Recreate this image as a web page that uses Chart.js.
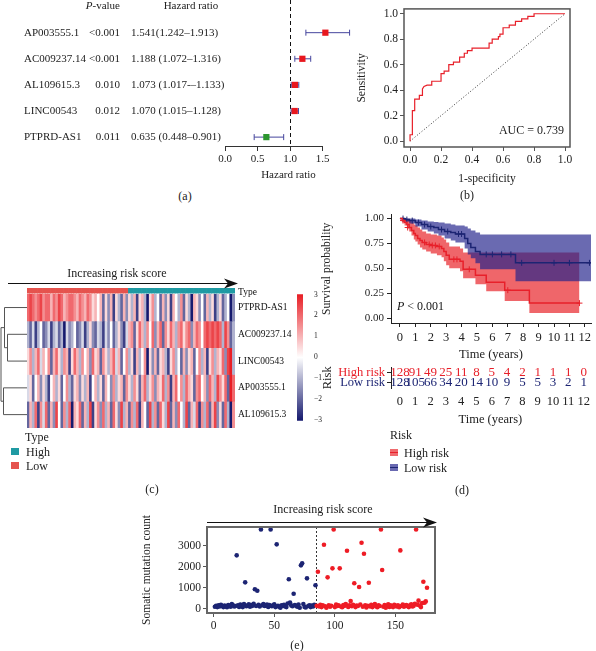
<!DOCTYPE html>
<html>
<head>
<meta charset="utf-8">
<title>Risk signature figure</title>
<script src="https://cdn.jsdelivr.net/npm/chart.js@4.4.1/dist/chart.umd.min.js"></script>
<style>
  body { margin: 0; background: #fff; }
  #page { position: relative; width: 596px; height: 651px; overflow: hidden; font-family: 'Liberation Serif', 'DejaVu Serif', serif; color: #222; }
  #page canvas { position: absolute; }
  .txt { position: absolute; white-space: nowrap; font-size: 12px; line-height: 1; }
  .panel { transform: translate(-50%, -50%); }
  .sw { position: absolute; width: 8px; height: 7px; }
</style>
</head>
<body>
<div id="page">
  <canvas id="forestChart" width="360" height="185" style="left:0;top:0"></canvas>
  <canvas id="rocChart" width="241" height="190" style="left:355px;top:0"></canvas>
  <canvas id="heatChart" width="300" height="170" style="left:0;top:262px"></canvas>
  <canvas id="scaleChart" width="40" height="146" style="left:290px;top:286px"></canvas>
  <canvas id="kmChart" width="276" height="160" style="left:320px;top:205px"></canvas>
  <canvas id="riskChart" width="276" height="72" style="left:320px;top:358px"></canvas>
  <canvas id="mutChart" width="305" height="145" style="left:140px;top:495px"></canvas>

  <div class="txt panel" style="left:185px;top:196px">(a)</div>
  <div class="txt panel" style="left:467px;top:195px">(b)</div>
  <div class="txt panel" style="left:152px;top:489px">(c)</div>
  <div class="txt panel" style="left:462px;top:490px">(d)</div>
  <div class="txt panel" style="left:297px;top:645px">(e)</div>

  <!-- heatmap legend -->
  <div class="txt" style="left:25px;top:431px">Type</div>
  <div class="sw" style="left:11px;top:448px;background:#1f9aa3"></div>
  <div class="txt" style="left:26px;top:446px">High</div>
  <div class="sw" style="left:11px;top:462px;background:#e5534e"></div>
  <div class="txt" style="left:26px;top:460px">Low</div>

  <!-- survival legend -->
  <div class="txt" style="left:390px;top:429px">Risk</div>
  <div class="sw" style="left:390px;top:449px;background:linear-gradient(#ef6a6d 0 3px,#e8202a 3px 4px,#ef6a6d 4px)"></div>
  <div class="txt" style="left:404px;top:447px">High risk</div>
  <div class="sw" style="left:390px;top:464px;background:linear-gradient(#6969b1 0 3px,#1c2473 3px 4px,#6969b1 4px)"></div>
  <div class="txt" style="left:404px;top:462px">Low risk</div>
</div>

<script>
// ---- (a) univariate Cox forest plot
const forestGenes = ['AP003555.1', 'AC009237.14', 'AL109615.3', 'LINC00543', 'PTPRD-AS1'];
const forestP = ['<0.001', '<0.001', '0.010', '0.012', '0.011'];
const forestHR = [1.541, 1.188, 1.073, 1.070, 0.635];
const forestLow = [1.242, 1.072, 1.017, 1.015, 0.448];
const forestHigh = [1.913, 1.316, 1.133, 1.128, 0.901];
const forestText = ['1.541(1.242\u20131.913)', '1.188 (1.072\u20131.316)', '1.073 (1.017-\u20131.133)', '1.070 (1.015\u20131.128)', '0.635 (0.448\u20130.901)'];
const forestTicks = [0, 0.5, 1.0, 1.5];

// ---- (b) ROC curve
const rocFpr = [0, 0, 0.015, 0.015, 0.03, 0.03, 0.06, 0.06, 0.08, 0.08, 0.09, 0.11, 0.14, 0.14, 0.2, 0.2, 0.22, 0.22, 0.25, 0.25, 0.28, 0.28, 0.32, 0.32, 0.35, 0.35, 0.37, 0.37, 0.4, 0.4, 0.51, 0.51, 0.53, 0.53, 0.57, 0.57, 0.58, 0.58, 0.6, 0.6, 0.64, 0.64, 0.68, 0.68, 0.72, 0.72, 0.76, 0.76, 0.8, 0.8, 1];
const rocTpr = [0, 0.05, 0.05, 0.24, 0.24, 0.33, 0.33, 0.36, 0.36, 0.41, 0.43, 0.44, 0.44, 0.47, 0.47, 0.53, 0.53, 0.55, 0.55, 0.6, 0.6, 0.62, 0.62, 0.66, 0.66, 0.69, 0.69, 0.71, 0.71, 0.73, 0.73, 0.77, 0.77, 0.8, 0.8, 0.82, 0.82, 0.84, 0.84, 0.89, 0.89, 0.91, 0.91, 0.94, 0.94, 0.96, 0.96, 0.98, 0.98, 1, 1];
const rocTicks = [0, 0.2, 0.4, 0.6, 0.8, 1.0];
const rocAuc = 0.739;

// ---- (c) heatmap, columns ordered by risk score
const typeGroups = ['Low', 'High'];
const typeCounts = [39, 41];
const heatGenes = ['PTPRD-AS1', 'AC009237.14', 'LINC00543', 'AP003555.1', 'AL109615.3'];
const heatPTPRD = [
  2, 2.5, 2, 1.5, 2, 2.5, 1.5, 2, 2, 1,
  2, 1.5, 2.5, 2, 1, 1.5, 2, 2, 1.5, 1,
  2, 1.5, 1, 2, 1.5, 0.5, 1, 0, 1, -2,
  0.5, -1.5, 1, -2.5, 0.5, -1, -2, 1, -1.5, 0.5,
  -1, 1, -2.5, 0.5, 1, -1, -3, 0.5, 1.5, -1,
  0, -2, 1, -1.5, 0.5, -2.5, 1, 0, -1, 1.5,
  -2, 0.5, -1, -3, 1, 0.5, -1.5, 0, -2, 1,
  -1, 0.5, -2.5, -1, 0.5, -2, -1, 0, -3, -1.5];
const heatAC = [
  -1, -2, -0.5, -2.5, -1, 0, -2, -1.5, -0.5, -2.5,
  -1, -0.5, -2, -1, -3, -0.5, -1.5, -1, 0, -2,
  -1.5, -0.5, -2.5, -1, 0.5, -1.5, -2, -0.5, -1, -2.5,
  -0.5, -1.5, 0, -2, -1, 0.5, -1.5, -2.5, -0.5, 1,
  1.5, -2, 0.5, 2, 1, -1, 1.5, 0, 2, -1.5,
  1, 2, -2, 1.5, 0.5, 2, 1, -1, 1.5, 2,
  0.5, 1.5, 2, -1.5, 1, 2, 1.5, 0, 2, 2.5,
  2, 2.5, 2, 2.5, 2, -1, 2.5, 1.5, -2, -1];
const heatLINC = [
  0.5, 1.5, -1, 1, 2, -0.5, 1, 0, 1.5, -2,
  1, 2, 0.5, -1, 1.5, 1, -2.5, 0.5, 2, 1,
  -1, 1.5, 0, 1, -1.5, 2, 0.5, 1, -2, 1.5,
  0.5, -1, 1, 2, -0.5, 1, -2, 0, 1.5, -1,
  0.5, -2.5, 1, -1, 0, 1.5, -3, 0.5, -1.5, 1,
  -2, 0.5, 1, -1, -2.5, 0.5, 1.5, -1, 0, -2,
  1, -1.5, 0.5, 1, -2, 0, 1.5, -1, 1, -2.5,
  0.5, 1.5, -1, 1, 0.5, 2, -1.5, 2.5, 3, -1];
const heatAP = [
  -0.5, 0.5, -2, 0, 1, -1.5, 0.5, -1, -2.5, 0,
  1, -1, 0.5, -2, 0, 1.5, -1, -2, 0.5, 1,
  -1.5, 0.5, -1, 1, -2.5, 0, 1, -1, 0.5, -2,
  1, 0, -1.5, 1.5, -1, 0.5, 1, -2, 1.5, 0.5,
  -1, 1.5, 0.5, -2, 1, 2, -1, 0.5, 1.5, -1.5,
  1, 0.5, 2, -1, 1.5, -2.5, 1, 2, 0, 1.5,
  -1, 2, 1, 0.5, -2, 1.5, 2, 0, 1, -1.5,
  2, 1, -1, 2.5, 1.5, 0.5, 2, -2, 3, 2];
const heatAL = [
  -2, 1, -1, 2, -2.5, 1.5, -0.5, 2, -2, 1,
  -1.5, 2.5, 0, -2, 1.5, -1, 2, -3, 1, 0.5,
  2, -2, 1, -1, 2.5, -2.5, 0.5, 1.5, -1.5, 2,
  -1, 1, -2, 2, 0.5, -1.5, 2.5, -1, 1, -2,
  1.5, -1, 2, -2.5, 1, 0, -2, 2.5, -1, 1.5,
  -2, 2, 0.5, -1, 2.5, -2, 1, -1.5, 2, 0,
  -1, 2.5, -2, 1, -0.5, 2, -2.5, 1.5, -1, 2,
  -2, 1, 2.5, -1.5, 0.5, -2, 2, -1, -3, 1.5];
const heatScaleTicks = [-3, -2, -1, 0, 1, 2, 3];

// ---- (d) Kaplan-Meier by risk group
const highTime = [0, 0.15, 0.3, 0.45, 0.6, 0.75, 0.9, 1.0, 1.15, 1.3, 1.45, 1.7, 2.0, 2.4, 2.7, 2.85, 3.0, 3.2, 3.9, 4.1, 4.9, 5.6, 6.8, 8.4, 11.65];
const highSurv = [1, 0.98, 0.96, 0.94, 0.91, 0.88, 0.85, 0.83, 0.80, 0.78, 0.76, 0.74, 0.73, 0.72, 0.70, 0.67, 0.63, 0.59, 0.57, 0.49, 0.43, 0.36, 0.28, 0.15, 0.15];
const highUpper = [1, 1, 1, 0.99, 0.98, 0.96, 0.94, 0.93, 0.91, 0.89, 0.87, 0.85, 0.84, 0.83, 0.81, 0.79, 0.76, 0.72, 0.70, 0.66, 0.66, 0.66, 0.66, 0.66, 0.66];
const highLower = [1, 0.96, 0.93, 0.90, 0.87, 0.83, 0.79, 0.77, 0.74, 0.71, 0.69, 0.67, 0.65, 0.63, 0.61, 0.57, 0.53, 0.50, 0.47, 0.40, 0.34, 0.27, 0.17, 0.05, 0.05];
const lowTime = [0, 0.3, 0.6, 1.0, 1.4, 1.8, 2.2, 2.5, 2.9, 3.3, 3.6, 4.2, 4.4, 4.6, 4.9, 5.2, 7.5, 12.4];
const lowSurv = [1, 0.99, 0.98, 0.96, 0.94, 0.92, 0.91, 0.89, 0.87, 0.86, 0.845, 0.80, 0.75, 0.71, 0.67, 0.64, 0.555, 0.555];
const lowUpper = [1, 1, 1, 0.99, 0.98, 0.97, 0.965, 0.96, 0.95, 0.94, 0.93, 0.92, 0.90, 0.88, 0.86, 0.84, 0.84, 0.84];
const lowLower = [1, 0.97, 0.95, 0.92, 0.89, 0.87, 0.85, 0.83, 0.80, 0.78, 0.76, 0.70, 0.64, 0.60, 0.55, 0.49, 0.37, 0.37];
const highCensorT = [0.2, 0.5, 1.6, 1.9, 2.1, 2.3, 2.55, 3.5, 3.7, 4.5, 7.0, 11.65];
const highCensorS = [0.98, 0.91, 0.76, 0.74, 0.73, 0.73, 0.72, 0.59, 0.59, 0.49, 0.28, 0.15];
const lowCensorT = [0.2, 0.45, 0.8, 1.2, 1.6, 2.0, 2.7, 3.1, 3.8, 4.0, 5.6, 6.0, 6.6, 7.2, 7.9, 10.0, 11.0, 12.3];
const lowCensorS = [1, 0.99, 0.98, 0.96, 0.94, 0.92, 0.89, 0.87, 0.845, 0.845, 0.64, 0.64, 0.64, 0.64, 0.555, 0.555, 0.555, 0.555];
const kmYears = [0, 1, 2, 3, 4, 5, 6, 7, 8, 9, 10, 11, 12];
const kmSurvTicks = [0, 0.25, 0.5, 0.75, 1];
const riskGroups = ['High risk', 'Low risk'];
const riskHigh = [128, 91, 49, 25, 11, 8, 5, 4, 2, 1, 1, 1, 0];
const riskLow = [128, 105, 66, 34, 20, 14, 10, 9, 5, 5, 3, 2, 1];

// ---- (e) somatic mutation count per sample, ordered by risk score
const lowRiskN = 84;
const mutationCount = [
  110, 150, 90, 180, 120, 200, 140, 90, 160, 130,
  80, 190, 150, 110, 230, 170, 120, 140, 2545, 180,
  100, 210, 150, 90, 240, 1265, 130, 170, 220, 110,
  190, 150, 250, 934, 140, 867, 200, 120, 3777, 180,
  230, 140, 160, 210, 100, 190, 3777, 130, 170, 220,
  90, 3066, 150, 110, 60, 180, 140, 200, 120, 90,
  260, 1408, 310, 170, 130, 725, 190, 150, 110, 210,
  60, 2071, 2166, 240, 100, 70, 1455, 140, 180, 90,
  160, 120, 200, 1123, 150, 1768, 120, 200, 90, 170,
  3047, 130, 60, 1502, 180, 110, 150, 1929, 3777, 90,
  210, 140, 170, 1929, 120, 80, 190, 150, 230, 2763,
  100, 170, 379, 130, 200, 1218, 90, 160, 140, 1043,
  210, 3142, 110, 2621, 180, 70, 150, 1246, 120, 200,
  90, 160, 230, 130, 80, 170, 140, 3777, 1848, 110,
  190, 60, 150, 220, 100, 170, 130, 90, 200, 150,
  120, 180, 80, 2780, 140, 210, 110, 160, 190, 130,
  90, 170, 220, 120, 150, 250, 3777, 200, 395, 160,
  90, 280, 1295, 300, 360, 1010];
const mutXTicks = [0, 50, 100, 150];
const mutYTicks = [0, 1000, 2000, 3000];

// ---------------------------------------------------------------
const SERIF = "'Liberation Serif', 'DejaVu Serif', serif";
const RED = '#e8202a';
const NAVY = '#1c2473';
const TYPE_COLORS = { Low: '#e5534e', High: '#1f9aa3' };
const HEAT_RED = [232, 30, 37];
const HEAT_NAVY = [22, 26, 110];

Chart.defaults.font.family = SERIF;
Chart.defaults.color = '#222';
Chart.defaults.animation = false;
Chart.defaults.responsive = false;
Chart.defaults.plugins.legend.display = false;
Chart.defaults.plugins.tooltip.enabled = false;

const pts = (xs, ys) => xs.map((x, i) => ({ x: x, y: ys[i] }));
const fixTicks = vals => scale => { scale.ticks = vals.map(v => ({ value: v })); };

function drawArrow(ctx, x0, x1, y) {
  ctx.save();
  ctx.strokeStyle = '#111';
  ctx.fillStyle = '#111';
  ctx.lineWidth = 1.2;
  ctx.beginPath();
  ctx.moveTo(x0, y);
  ctx.lineTo(x1 - 6, y);
  ctx.stroke();
  ctx.beginPath();
  ctx.moveTo(x1, y);
  ctx.lineTo(x1 - 14, y - 5);
  ctx.lineTo(x1 - 10, y);
  ctx.lineTo(x1 - 14, y + 5);
  ctx.closePath();
  ctx.fill();
  ctx.restore();
}

// (a) forest plot
const forestPlugin = {
  id: 'forestText',
  beforeDatasetsDraw(chart) {
    const { ctx, chartArea, scales: { x } } = chart;
    const px = Math.round(x.getPixelForValue(1)) + 0.5;
    ctx.save();
    ctx.strokeStyle = '#111';
    ctx.lineWidth = 1;
    ctx.setLineDash([4, 3]);
    ctx.beginPath();
    ctx.moveTo(px, 0);
    ctx.lineTo(px, chartArea.bottom);
    ctx.stroke();
    ctx.restore();
  },
  afterDraw(chart) {
    const { ctx, chartArea, scales: { x, y } } = chart;
    ctx.save();
    ctx.strokeStyle = '#333';
    ctx.lineWidth = 1;
    ctx.beginPath();
    ctx.moveTo(x.getPixelForValue(0), chartArea.bottom + 0.5);
    ctx.lineTo(x.getPixelForValue(1.5), chartArea.bottom + 0.5);
    ctx.stroke();

    ctx.fillStyle = '#222';
    ctx.textBaseline = 'middle';
    ctx.font = '11px ' + SERIF;
    forestGenes.forEach((g, i) => {
      const py = y.getPixelForValue(i);
      ctx.textAlign = 'left';
      ctx.fillText(g, 24, py);
      ctx.textAlign = 'right';
      ctx.fillText(forestP[i], 120, py);
      ctx.textAlign = 'left';
      ctx.fillText(forestText[i], 131, py);
    });
    // headers
    ctx.textAlign = 'right';
    const rest = '-value';
    ctx.fillText(rest, 120, 6);
    const w = ctx.measureText(rest).width;
    ctx.font = 'italic 11px ' + SERIF;
    ctx.fillText('P', 120 - w, 6);
    ctx.font = '11px ' + SERIF;
    ctx.textAlign = 'center';
    ctx.fillText('Hazard ratio', 191, 6);
    ctx.restore();
  }
};

new Chart(document.getElementById('forestChart'), {
  type: 'scatter',
  data: {
    datasets: [
      ...forestGenes.map((g, i) => ({
        type: 'line',
        data: [{ x: forestLow[i], y: i }, { x: forestHigh[i], y: i }],
        borderColor: '#46469e',
        borderWidth: 1,
        pointStyle: 'line',
        pointRotation: 90,
        pointRadius: 3,
        pointBorderColor: '#46469e',
        pointBorderWidth: 1,
        order: 1
      })),
      {
        type: 'scatter',
        data: forestHR.map((v, i) => ({ x: v, y: i })),
        pointStyle: 'rect',
        pointRadius: 4.4,
        pointBackgroundColor: forestHR.map(v => v > 1 ? '#e8171e' : '#2c962f'),
        pointBorderWidth: 0,
        order: 0
      }
    ]
  },
  options: {
    layout: { padding: { left: 225, right: 8, top: 3, bottom: 0 } },
    scales: {
      x: {
        type: 'linear', min: 0, max: 1.95,
        afterBuildTicks: fixTicks(forestTicks),
        afterFit: s => { s.height = 39; },
        ticks: { callback: v => v.toFixed(1), font: { size: 11 }, padding: 2, maxRotation: 0 },
        grid: { drawOnChartArea: false, tickLength: 5, color: '#333' },
        border: { display: false },
        title: { display: true, text: 'Hazard ratio', font: { size: 11 }, padding: { top: 2, bottom: 3 } }
      },
      y: { type: 'linear', display: false, reverse: true, min: -1.06, max: 4.34 }
    }
  },
  plugins: [forestPlugin]
});

// (b) ROC
const boxPlugin = {
  id: 'box',
  afterDraw(chart, args, opts) {
    const { ctx, chartArea } = chart;
    ctx.save();
    ctx.strokeStyle = opts.color || '#555';
    ctx.lineWidth = opts.width || 1.5;
    ctx.strokeRect(chartArea.left, chartArea.top, chartArea.right - chartArea.left, chartArea.bottom - chartArea.top);
    if (opts.text) {
      ctx.fillStyle = '#222';
      ctx.font = '12px ' + SERIF;
      ctx.textAlign = 'right';
      ctx.textBaseline = 'middle';
      ctx.fillText(opts.text, chartArea.right - 6, chartArea.bottom - 16);
    }
    ctx.restore();
  }
};

new Chart(document.getElementById('rocChart'), {
  type: 'scatter',
  data: {
    datasets: [
      { type: 'line', data: pts(rocFpr, rocTpr), borderColor: RED, borderWidth: 1.2, pointRadius: 0, tension: 0 },
      { type: 'line', data: [{ x: 0, y: 0 }, { x: 1, y: 1 }], borderColor: '#333', borderWidth: 1, borderDash: [1, 2], pointRadius: 0 }
    ]
  },
  options: {
    layout: { padding: { top: 6, right: 26, left: 0, bottom: 0 } },
    scales: {
      x: {
        type: 'linear', min: -0.039, max: 1.032,
        afterBuildTicks: fixTicks(rocTicks),
        afterFit: s => { s.height = 43; },
        ticks: { callback: v => v.toFixed(1), font: { size: 11.5 }, padding: 2, maxRotation: 0 },
        grid: { drawOnChartArea: false, tickLength: 4, color: '#555' },
        border: { display: false },
        title: { display: true, text: '1-specificity', font: { size: 11.5 }, padding: { top: 0, bottom: 4 } }
      },
      y: {
        type: 'linear', min: -0.046, max: 1.038,
        afterBuildTicks: fixTicks(rocTicks),
        afterFit: s => { s.width = 49; },
        ticks: { callback: v => v.toFixed(1), font: { size: 11.5 }, padding: 2 },
        grid: { drawOnChartArea: false, tickLength: 4, color: '#555' },
        border: { display: false },
        title: { display: true, text: 'Sensitivity', font: { size: 11.5 }, padding: { top: 0, bottom: 2 } }
      }
    },
    plugins: { box: { text: 'AUC = ' + rocAuc } }
  },
  plugins: [boxPlugin]
});

// (c) heatmap as stacked full-width bars
const TYPE_H = 0.19;
const GAP_H = 0.04;
const heatRows = [heatPTPRD, heatAC, heatLINC, heatAP, heatAL];
const heatCols = heatPTPRD.map((_, i) => i + 1);
const typeOfCol = heatCols.map((c, i) => i < typeCounts[0] ? typeGroups[0] : typeGroups[1]);

function mixColor(c, a) {
  const r = Math.round(255 + (c[0] - 255) * a);
  const g = Math.round(255 + (c[1] - 255) * a);
  const b = Math.round(255 + (c[2] - 255) * a);
  return 'rgb(' + r + ',' + g + ',' + b + ')';
}
function heatColor(v) {
  const t = Math.max(-1, Math.min(1, v / 3));
  return t >= 0 ? mixColor(HEAT_RED, t) : mixColor(HEAT_NAVY, -t);
}

const heatPlugin = {
  id: 'heatDecor',
  afterDraw(chart) {
    const { ctx, chartArea, scales: { y } } = chart;
    const rowMid = i => y.getPixelForValue(TYPE_H + GAP_H + i + 0.5);
    ctx.save();
    ctx.fillStyle = '#111';
    ctx.font = '9.5px ' + SERIF;
    ctx.textAlign = 'left';
    ctx.textBaseline = 'middle';
    ctx.fillText('Type', chartArea.right + 3, y.getPixelForValue(TYPE_H / 2) + 2);
    heatGenes.forEach((g, i) => ctx.fillText(g, chartArea.right + 3, rowMid(i)));

    // dendrogram on the left
    const L = chartArea.left;
    const yc = heatGenes.map((g, i) => rowMid(i));
    const m12 = (yc[1] + yc[2]) / 2;
    const mA = (yc[0] + m12) / 2;
    const mB = (yc[3] + yc[4]) / 2;
    ctx.strokeStyle = '#555';
    ctx.lineWidth = 1;
    ctx.beginPath();
    ctx.moveTo(L, yc[0]); ctx.lineTo(4.5, yc[0]); ctx.lineTo(4.5, m12); ctx.lineTo(7.5, m12);
    ctx.moveTo(L, yc[1]); ctx.lineTo(7.5, yc[1]); ctx.lineTo(7.5, yc[2]); ctx.lineTo(L, yc[2]);
    ctx.moveTo(L, yc[3]); ctx.lineTo(3.5, yc[3]); ctx.lineTo(3.5, yc[4]); ctx.lineTo(L, yc[4]);
    ctx.moveTo(4.5, mA); ctx.lineTo(1, mA); ctx.lineTo(1, mB); ctx.lineTo(3.5, mB);
    ctx.stroke();

    // header
    ctx.font = '12px ' + SERIF;
    ctx.fillStyle = '#222';
    ctx.textAlign = 'center';
    ctx.fillText('Increasing risk score', 117, 12);
    ctx.restore();
    drawArrow(ctx, 8, 238, 21.5);
  }
};

new Chart(document.getElementById('heatChart'), {
  type: 'bar',
  data: {
    labels: heatCols,
    datasets: [
      { data: heatCols.map(() => TYPE_H), backgroundColor: typeOfCol.map(t => TYPE_COLORS[t]) },
      { data: heatCols.map(() => GAP_H), backgroundColor: 'rgba(0,0,0,0)' },
      ...heatRows.map(row => ({ data: row.map(() => 1), backgroundColor: row.map(heatColor) }))
    ]
  },
  options: {
    layout: { padding: { left: 27, right: 65, top: 26, bottom: 4 } },
    datasets: { bar: { barPercentage: 1, categoryPercentage: 1, borderWidth: 0 } },
    scales: {
      x: { stacked: true, display: false },
      y: { stacked: true, display: false, reverse: true, min: 0, max: TYPE_H + GAP_H + heatRows.length }
    }
  },
  plugins: [heatPlugin]
});

// colour key of the heatmap
new Chart(document.getElementById('scaleChart'), {
  type: 'bar',
  data: {
    labels: [''],
    datasets: [{
      data: [[heatScaleTicks[0], heatScaleTicks[heatScaleTicks.length - 1]]],
      barPercentage: 1, categoryPercentage: 1, borderWidth: 0,
      backgroundColor: c => {
        const ch = c.chart;
        if (!ch.chartArea) return '#fff';
        const ys = ch.scales.y;
        const g = ch.ctx.createLinearGradient(0, ys.getPixelForValue(3), 0, ys.getPixelForValue(-3));
        g.addColorStop(0, mixColor(HEAT_RED, 1));
        g.addColorStop(0.5, '#ffffff');
        g.addColorStop(1, mixColor(HEAT_NAVY, 1));
        return g;
      }
    }]
  },
  options: {
    layout: { padding: { left: 7, top: 6, bottom: 6, right: 0 } },
    scales: {
      x: { display: false },
      y: {
        position: 'right', min: -3.2, max: 3.05,
        afterBuildTicks: fixTicks(heatScaleTicks),
        afterFit: s => { s.width = 27; },
        ticks: { font: { size: 7.5 }, padding: 3, callback: v => v < 0 ? '\u2212' + Math.abs(v) : String(v) },
        grid: { display: false },
        border: { display: false }
      }
    }
  }
});

// (d) Kaplan-Meier
const kmPlugin = {
  id: 'kmText',
  afterDraw(chart) {
    const { ctx, chartArea } = chart;
    ctx.save();
    ctx.fillStyle = '#111';
    ctx.textBaseline = 'middle';
    ctx.textAlign = 'left';
    ctx.font = 'italic 12px ' + SERIF;
    const x0 = chartArea.left + 6;
    const y0 = chartArea.bottom - 16;
    ctx.fillText('P', x0, y0);
    const w = ctx.measureText('P ').width;
    ctx.font = '12px ' + SERIF;
    ctx.fillText('< 0.001', x0 + w, y0);
    ctx.restore();
  }
};

new Chart(document.getElementById('kmChart'), {
  type: 'scatter',
  data: {
    datasets: [
      { type: 'line', data: pts(highTime, highSurv), stepped: true, borderColor: RED, borderWidth: 1.5, pointRadius: 0, order: 0 },
      { type: 'line', data: pts(lowTime, lowSurv), stepped: true, borderColor: NAVY, borderWidth: 1.5, pointRadius: 0, order: 0 },
      { type: 'scatter', data: pts(highCensorT, highCensorS), pointStyle: 'cross', pointRadius: 3, pointBorderColor: RED, pointBorderWidth: 1, order: 0 },
      { type: 'scatter', data: pts(lowCensorT, lowCensorS), pointStyle: 'cross', pointRadius: 3, pointBorderColor: NAVY, pointBorderWidth: 1, order: 0 },
      { type: 'line', data: pts(lowTime, lowUpper), stepped: true, borderColor: 'rgba(0,0,0,0)', borderWidth: 0, pointRadius: 0, fill: '+1', backgroundColor: 'rgba(35,35,140,0.68)', order: 1 },
      { type: 'line', data: pts(lowTime, lowLower), stepped: true, borderColor: 'rgba(0,0,0,0)', borderWidth: 0, pointRadius: 0, fill: false, order: 1 },
      { type: 'line', data: pts(highTime, highUpper), stepped: true, borderColor: 'rgba(0,0,0,0)', borderWidth: 0, pointRadius: 0, fill: '+1', backgroundColor: 'rgba(232,30,35,0.68)', order: 2 },
      { type: 'line', data: pts(highTime, highLower), stepped: true, borderColor: 'rgba(0,0,0,0)', borderWidth: 0, pointRadius: 0, fill: false, order: 2 }
    ]
  },
  options: {
    layout: { padding: { top: 8, right: 3, left: 0, bottom: 0 } },
    scales: {
      x: {
        type: 'linear', min: -0.58, max: 12.4,
        afterBuildTicks: fixTicks(kmYears),
        afterFit: s => { s.height = 42; },
        ticks: { font: { size: 12.5 }, padding: 3, maxRotation: 0 },
        grid: { drawOnChartArea: false, tickLength: 4, color: '#222' },
        border: { display: true, color: '#222', width: 1 },
        title: { display: true, text: 'Time (years)', font: { size: 12.5 }, padding: { top: 0, bottom: 3 } }
      },
      y: {
        type: 'linear', min: -0.05, max: 1.04,
        afterBuildTicks: fixTicks(kmSurvTicks),
        afterFit: s => { s.width = 71; },
        ticks: { callback: v => v.toFixed(2), font: { size: 11 }, padding: 3 },
        grid: { drawOnChartArea: false, tickLength: 4, color: '#222' },
        border: { display: true, color: '#222', width: 1 },
        title: { display: true, text: 'Survival probability', font: { size: 11.5 }, padding: { top: 0, bottom: 4 } }
      }
    }
  },
  plugins: [kmPlugin]
});

// risk table under the KM plot
const riskPlugin = {
  id: 'riskNumbers',
  afterDatasetsDraw(chart) {
    const { ctx } = chart;
    const tables = [riskHigh, riskLow];
    const colors = [RED, NAVY];
    ctx.save();
    ctx.font = '13px ' + SERIF;
    ctx.textAlign = 'center';
    ctx.textBaseline = 'middle';
    chart.data.datasets.forEach((ds, d) => {
      ctx.fillStyle = colors[d];
      chart.getDatasetMeta(d).data.forEach((el, i) => ctx.fillText(String(tables[d][i]), el.x, el.y));
    });
    ctx.restore();
  }
};

new Chart(document.getElementById('riskChart'), {
  type: 'scatter',
  data: {
    datasets: [
      { data: kmYears.map(t => ({ x: t, y: riskGroups[0] })), pointRadius: 0 },
      { data: kmYears.map(t => ({ x: t, y: riskGroups[1] })), pointRadius: 0 }
    ]
  },
  options: {
    layout: { padding: { top: 2, right: 3, left: 0, bottom: 0 } },
    scales: {
      x: {
        type: 'linear', min: -0.58, max: 12.4,
        afterBuildTicks: fixTicks(kmYears),
        afterFit: s => { s.height = 42; },
        ticks: { font: { size: 12.5 }, padding: 6, maxRotation: 0 },
        grid: { display: false, drawTicks: false },
        border: { display: false },
        title: { display: true, text: 'Time (years)', font: { size: 12.5 }, padding: { top: 0, bottom: 3 } }
      },
      y: {
        type: 'category', labels: riskGroups, offset: true,
        afterFit: s => { s.width = 71; },
        ticks: { font: { size: 12.5 }, padding: 2, autoSkip: false, color: c => c.index === 0 ? RED : NAVY },
        grid: { drawOnChartArea: false, tickLength: 4, color: '#222' },
        border: { display: true, color: '#222', width: 1 },
        title: { display: true, text: 'Risk', font: { size: 12.5 }, padding: { top: 0, bottom: 2 } }
      }
    }
  },
  plugins: [riskPlugin]
});

// (e) somatic mutation counts
const mutPlugin = {
  id: 'mutDecor',
  beforeDatasetsDraw(chart) {
    const { ctx, chartArea, scales: { x } } = chart;
    const px = Math.round(x.getPixelForValue(lowRiskN + 0.5)) + 0.5;
    ctx.save();
    ctx.strokeStyle = '#333';
    ctx.lineWidth = 1;
    ctx.setLineDash([2, 2]);
    ctx.beginPath();
    ctx.moveTo(px, chartArea.top);
    ctx.lineTo(px, chartArea.bottom);
    ctx.stroke();
    ctx.restore();
  },
  afterDraw(chart) {
    const { ctx, chartArea } = chart;
    ctx.save();
    ctx.font = '12px ' + SERIF;
    ctx.fillStyle = '#222';
    ctx.textAlign = 'center';
    ctx.textBaseline = 'middle';
    ctx.fillText('Increasing risk score', (chartArea.left + chartArea.right) / 2 + 2, 15);
    ctx.restore();
    drawArrow(ctx, chartArea.left, chartArea.right + 2, 27.5);
  }
};

new Chart(document.getElementById('mutChart'), {
  type: 'scatter',
  data: {
    datasets: [{
      data: mutationCount.map((v, i) => ({ x: i + 1, y: v })),
      pointRadius: 2.3,
      pointBorderWidth: 0,
      pointBackgroundColor: mutationCount.map((v, i) => i < lowRiskN ? NAVY : '#ee1c25')
    }]
  },
  options: {
    layout: { padding: { top: 32, right: 10, left: 0, bottom: 0 } },
    scales: {
      x: {
        type: 'linear', min: -5.5, max: 182.6,
        afterBuildTicks: fixTicks(mutXTicks),
        afterFit: s => { s.height = 27; },
        ticks: { font: { size: 11.5 }, padding: 2, maxRotation: 0 },
        grid: { drawOnChartArea: false, tickLength: 4, color: '#555' },
        border: { display: false }
      },
      y: {
        type: 'linear', min: -190, max: 3890,
        afterBuildTicks: fixTicks(mutYTicks),
        afterFit: s => { s.width = 67; },
        ticks: { font: { size: 11.5 }, padding: 2, callback: v => String(v) },
        grid: { drawOnChartArea: false, tickLength: 4, color: '#555' },
        border: { display: false },
        title: { display: true, text: 'Somatic mutation count', font: { size: 11.5 }, padding: { top: 0, bottom: 4 } }
      }
    },
    plugins: { box: { color: '#666', width: 2 } }
  },
  plugins: [boxPlugin, mutPlugin]
});
</script>
</body>
</html>
